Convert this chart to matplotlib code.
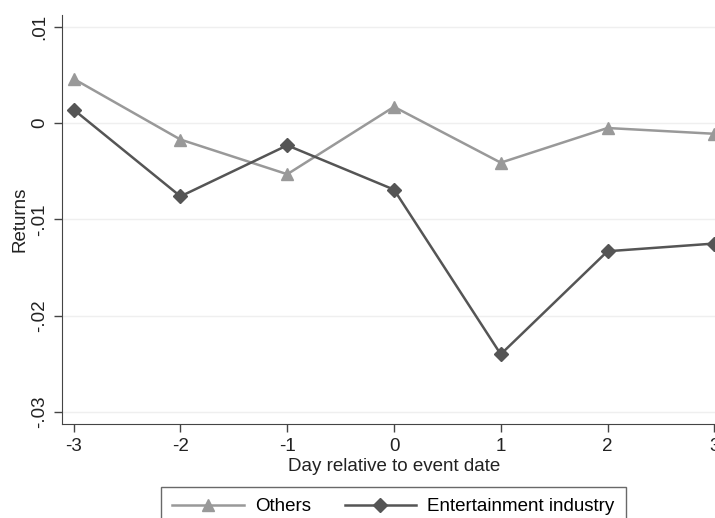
import matplotlib
matplotlib.use("Agg")
import matplotlib.pyplot as plt

plt.rcParams["font.family"] = ["Liberation Sans", "DejaVu Sans"]

days = [-3, -2, -1, 0, 1, 2, 3]
others = [0.0046, -0.0017, -0.0053, 0.0017, -0.0041, -0.0005, -0.0011]
entertainment = [0.0014, -0.0076, -0.0023, -0.0069, -0.0240, -0.0133, -0.0125]
y_ticks = [-0.03, -0.02, -0.01, 0, 0.01]
y_labels = ["-.03", "-.02", "-.01", "0", ".01"]

FS = 13.5

fig = plt.figure(figsize=(7.15, 5.18), dpi=100)
ax = fig.add_axes([0.0867, 0.1815, 0.9287, 0.7896])

for y in y_ticks:
    ax.axhline(y, color="#efefef", linewidth=1, zorder=0)

ax.plot(days, others, color="#999999", linewidth=1.8, marker="^",
        markersize=8, label="Others", zorder=3)
ax.plot(days, entertainment, color="#555555", linewidth=1.8, marker="D",
        markersize=7, label="Entertainment industry", zorder=3)

ax.set_xlim(-3.11, 3.11)
ax.set_ylim(-0.03124, 0.01124)
ax.set_xticks(days)
ax.set_xticklabels([str(d) for d in days])
ax.set_yticks(y_ticks)
ax.set_yticklabels(y_labels, rotation=90, va="center")
ax.tick_params(axis="both", labelsize=FS, length=6, width=1, color="#444444",
               labelcolor="#222222", pad=4)
ax.set_xlabel("Day relative to event date", fontsize=FS, color="#222222", labelpad=2)
ax.set_ylabel("Returns", fontsize=FS, color="#222222", labelpad=2)

ax.spines["top"].set_visible(False)
ax.spines["right"].set_visible(False)
for s in ["left", "bottom"]:
    ax.spines[s].set_color("#444444")

leg = fig.legend(loc="upper center", bbox_to_anchor=(0.55, 0.0598), ncol=2,
                 fontsize=FS, frameon=True, fancybox=False, handlelength=3.8,
                 handletextpad=0.6, columnspacing=1.8, borderpad=0.6,
                 borderaxespad=0)
leg.get_frame().set_edgecolor("#444444")
leg.get_frame().set_linewidth(1)

fig.savefig("out.png", dpi=100)
